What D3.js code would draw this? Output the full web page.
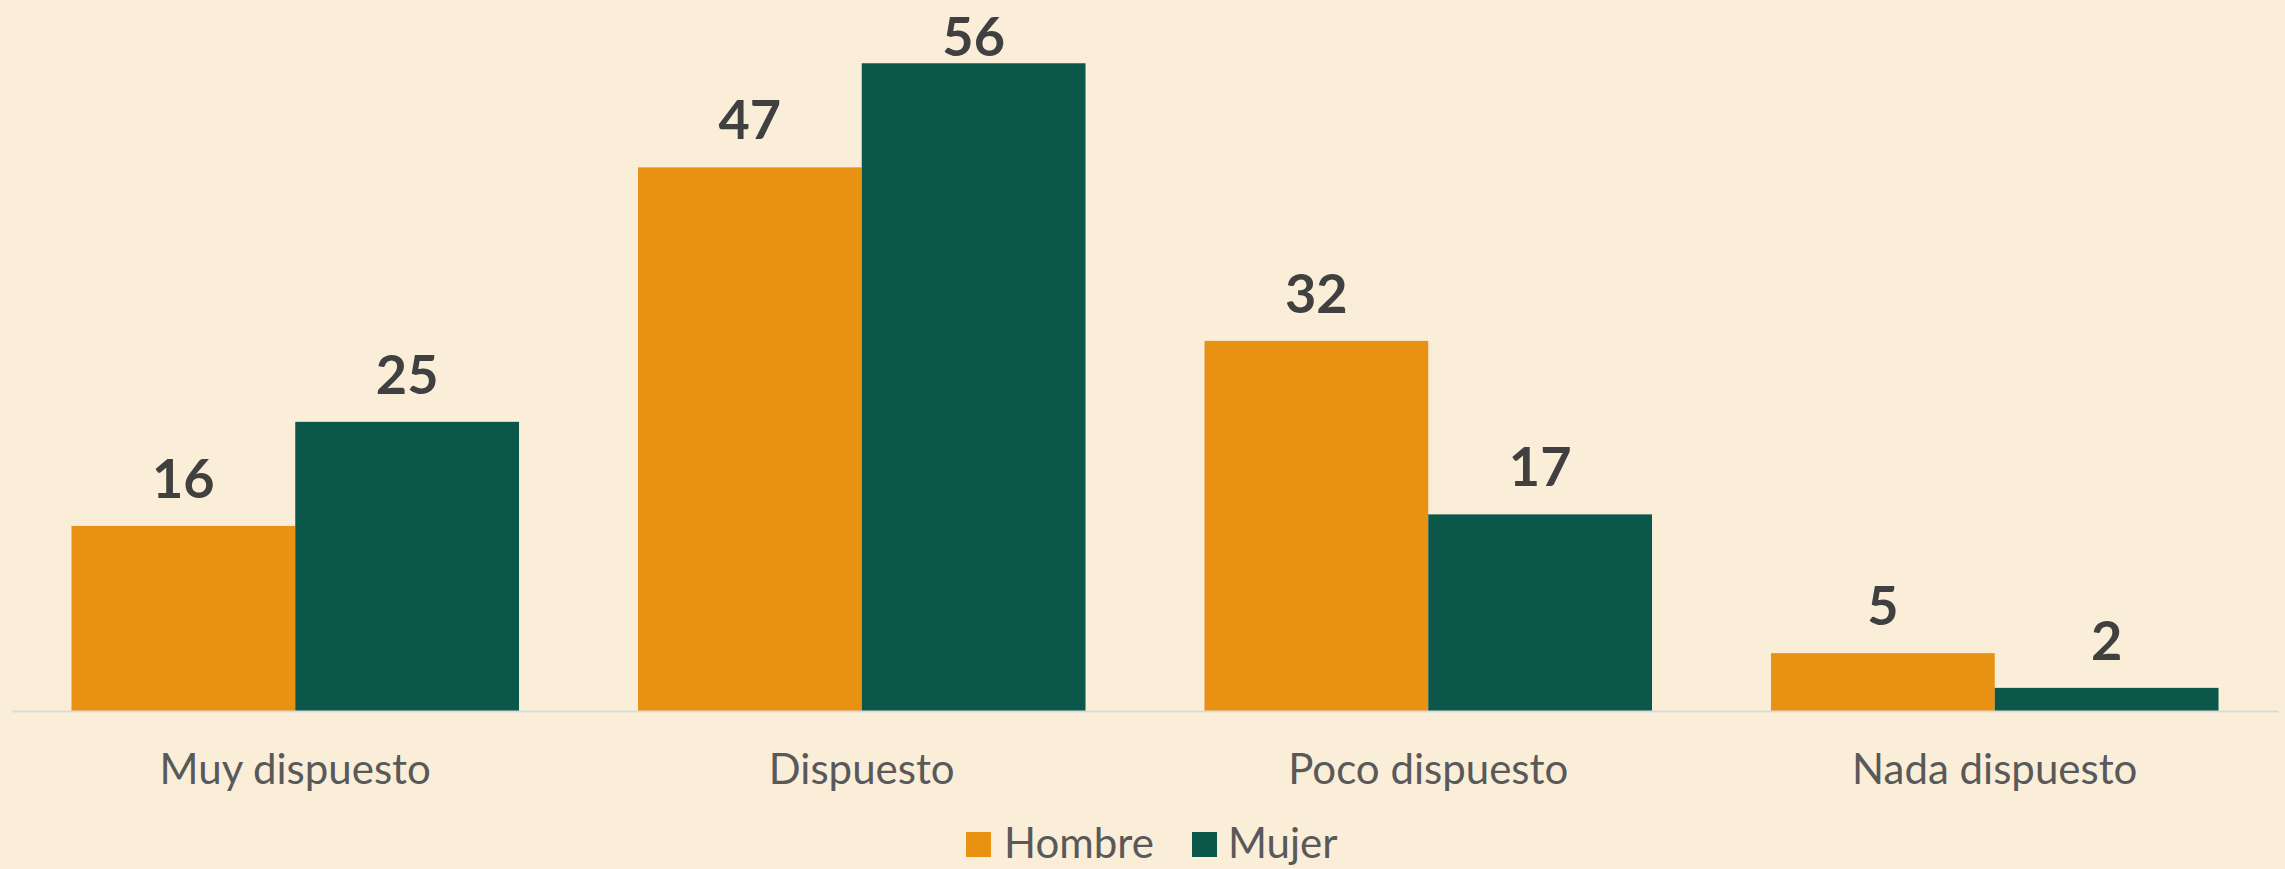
<!DOCTYPE html>
<html>
<head>
<meta charset="utf-8">
<script src="https://cdn.jsdelivr.net/npm/d3@7"></script>
<style>
  html, body { margin: 0; padding: 0; background: #FAEED9; }
  svg { display: block; }
</style>
</head>
<body>
<div id="chart"></div>
<script>
const categories = ["Muy dispuesto", "Dispuesto", "Poco dispuesto", "Nada dispuesto"]
const seriesNames = ["Hombre", "Mujer"]
const hombre = [16, 47, 32, 5]
const mujer = [25, 56, 17, 2]
const colors = ["#E89112", "#0B584A"]

const width = 2285
const height = 869

const svg = d3.select("#chart")
    .append("svg")
    .attr("width", width)
    .attr("height", height)

svg.append("rect")
    .attr("width", width)
    .attr("height", height)
    .attr("fill", "#FAEED9")

const x = d3.scaleBand()
    .domain(categories)
    .range([12, 2278])
    .paddingInner(0.21)
    .paddingOuter(0.105)

const xs = d3.scaleBand()
    .domain(seriesNames)
    .range([0, x.bandwidth()])

const y = d3.scaleLinear()
    .domain([0, 60])
    .range([711, 17])

const rows = categories.map((c, i) => ({ cat: c, values: [hombre[i], mujer[i]] }))

const groups = svg.selectAll("g.group")
    .data(rows)
    .join("g")
    .attr("class", "group")
    .attr("transform", d => `translate(${x(d.cat)},0)`)

groups.selectAll("rect")
    .data(d => d.values.map((v, j) => ({ name: seriesNames[j], v: v, j: j })))
    .join("rect")
    .attr("x", d => xs(d.name))
    .attr("y", d => y(d.v))
    .attr("width", xs.bandwidth())
    .attr("height", d => y(0) - y(d.v))
    .attr("fill", d => colors[d.j])

// value labels (Excel pushes the tallest one down to stay inside)
groups.selectAll("text.val")
    .data(d => d.values.map((v, j) => ({ name: seriesNames[j], v: v })))
    .join("text")
    .attr("class", "val")
    .attr("x", d => xs(d.name) + xs.bandwidth() / 2)
    .attr("y", d => Math.max(y(d.v) - 28, 56))
    .attr("text-anchor", "middle")
    .attr("font-family", "Lato, sans-serif")
    .attr("font-weight", "bold")
    .attr("font-size", 54)
    .attr("fill", "#404040")
    .text(d => d.v)

// axis
const xAxis = svg.append("g")
    .attr("transform", `translate(0,${y(0)})`)
    .call(d3.axisBottom(x).tickSize(0).tickPadding(0))
xAxis.select(".domain")
    .attr("stroke", "#D9D9D9")
    .attr("stroke-width", 2)
xAxis.selectAll("text")
    .attr("dy", 0)
    .attr("y", 73)
    .attr("font-family", "Lato, sans-serif")
    .attr("font-size", 42)
    .attr("fill", "#595959")

// legend
const legendItems = [
    { name: seriesNames[0], sx: 966, tx: 1004 },
    { name: seriesNames[1], sx: 1192, tx: 1228 }
]
const legend = svg.append("g")
legend.selectAll("rect")
    .data(legendItems)
    .join("rect")
    .attr("x", d => d.sx)
    .attr("y", 832)
    .attr("width", 25)
    .attr("height", 25)
    .attr("fill", (d, i) => colors[i])
legend.selectAll("text")
    .data(legendItems)
    .join("text")
    .attr("x", d => d.tx)
    .attr("y", 858)
    .attr("font-family", "Lato, sans-serif")
    .attr("font-size", 42)
    .attr("fill", "#595959")
    .text(d => d.name)
</script>
</body>
</html>
